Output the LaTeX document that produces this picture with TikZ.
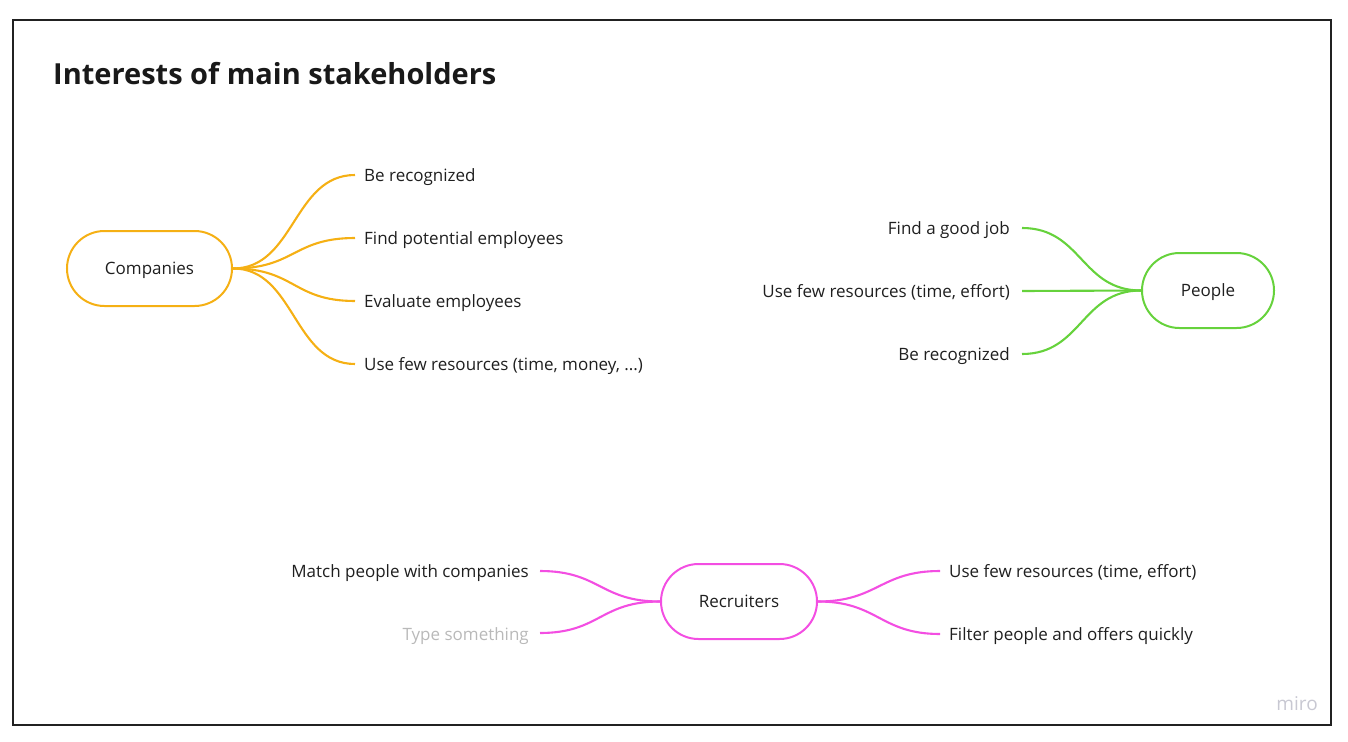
\documentclass[tikz,border=0pt]{standalone}
\usepackage{fontspec}
\setmainfont{Open Sans}
\begin{document}
\begin{tikzpicture}[x=1pt,y=-1pt,
  frame/.style={draw=black!87,line width=2pt},
  hubbox/.style={draw=#1,line width=2pt,rounded corners=37.5pt,minimum height=75pt,inner sep=0pt,text height=12pt,text depth=0pt,font=\fontsize{17}{20}\selectfont,text=black!88},
  leaf/.style={font=\fontsize{17}{20}\selectfont,text=black!88,inner sep=0pt},
  branch/.style={draw=#1,line width=2.1pt},
]
\definecolor{corange}{RGB}{245,176,20}
\definecolor{cgreen}{RGB}{102,210,60}
\definecolor{cmagenta}{RGB}{243,78,226}
\definecolor{chint}{RGB}{185,185,185}
\definecolor{cmiro}{RGB}{200,200,210}
\useasboundingbox (0,0) rectangle (1348,741);
\draw[frame] (13,20) rectangle (1331,725);
\node[anchor=base west,inner sep=0pt,font=\fontsize{29}{34}\bfseries\selectfont,text=black!90] (title) at (53,85) {Interests of main stakeholders};

% Companies
\node[hubbox=corange,minimum width=165pt] (comp) at (149.5,268.5) {Companies};
\coordinate (c1) at (355,175);
\coordinate (c2) at (355,238);
\coordinate (c3) at (355,301);
\coordinate (c4) at (355,364);
\foreach \c in {c1,c2,c3,c4}{
  \draw[branch=corange] (comp.east) .. controls ([xshift=62pt]comp.east) and ([xshift=-62pt]\c) .. (\c);
}
\node[leaf,anchor=base west] (t1) at (364,181) {Be recognized};
\node[leaf,anchor=base west] (t2) at (364,244) {Find potential employees};
\node[leaf,anchor=base west] (t3) at (364,307) {Evaluate employees};
\node[leaf,anchor=base west] (t4) at (364,370) {Use few resources (time, money, ...)};

% People
\node[hubbox=cgreen,minimum width=132pt] (peop) at (1208,290.5) {People};
\coordinate (p1) at (1022,228);
\coordinate (p2) at (1022,291);
\coordinate (p3) at (1022,354);
\draw[branch=cgreen] (peop.west) .. controls ([xshift=-60pt]peop.west) and ([xshift=60pt]p1) .. (p1);
\draw[branch=cgreen] (peop.west) -- (p2);
\draw[branch=cgreen] (peop.west) .. controls ([xshift=-60pt]peop.west) and ([xshift=60pt]p3) .. (p3);
\node[leaf,anchor=base east] (u1) at (1010,234) {Find a good job};
\node[leaf,anchor=base east] (u2) at (1010,297) {Use few resources (time, effort)};
\node[leaf,anchor=base east] (u3) at (1010,360) {Be recognized};

% Recruiters
\node[hubbox=cmagenta,minimum width=156pt] (recr) at (739,601.5) {Recruiters};
\coordinate (r1) at (540,571);
\coordinate (r2) at (540,633);
\coordinate (r3) at (940,571);
\coordinate (r4) at (940,634);
\foreach \c in {r1,r2}{
  \draw[branch=cmagenta] (recr.west) .. controls ([xshift=-60pt]recr.west) and ([xshift=60pt]\c) .. (\c);
}
\foreach \c in {r3,r4}{
  \draw[branch=cmagenta] (recr.east) .. controls ([xshift=60pt]recr.east) and ([xshift=-60pt]\c) .. (\c);
}
\node[leaf,anchor=base east] (v1) at (529,577) {Match people with companies};
\node[leaf,anchor=base east,text=chint] (v2) at (529,640) {Type something};
\node[leaf,anchor=base west] (v3) at (949,577) {Use few resources (time, effort)};
\node[leaf,anchor=base west] (v4) at (949,640) {Filter people and offers quickly};

\node[anchor=base east,inner sep=0pt,font=\fontsize{19}{22}\selectfont,text=cmiro] (miro) at (1318,710) {miro};
\end{tikzpicture}
\end{document}
